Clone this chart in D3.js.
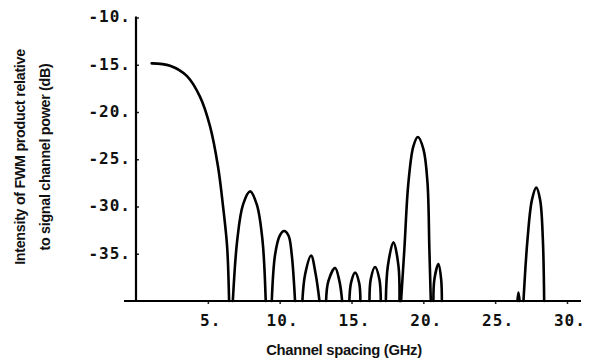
<!DOCTYPE html>
<html>
<head>
<meta charset="utf-8">
<script src="https://cdn.jsdelivr.net/npm/d3@7"></script>
<style>
  html, body { margin: 0; padding: 0; background: #fff; }
  svg { display: block; }
</style>
</head>
<body>
<svg id="chart" width="593" height="359"></svg>
<script>
// ---- data ----
// one traced curve; null marks a break between lobes
const spacingGHz = [
  1.09, 2.37, 3.55, 4.46, 5.15, 5.71, 6.06, 6.34, 6.48, null,
  6.74, 7.05, 7.45, 7.94, 8.41, 8.80, 9.03, null,
  9.45, 9.68, 10.00, 10.31, 10.62, 10.84, 11.07, null,
  11.58, 11.77, 12.19, 12.51, 12.77, null,
  13.23, 13.39, 13.86, 14.16, 14.35, null,
  14.85, 14.97, 15.25, 15.53, 15.62, null,
  16.25, 16.34, 16.64, 16.94, 17.04, null,
  17.39, 17.53, 17.92, 18.27, 18.34, null,
  18.45, 18.68, 18.96, 19.31, 19.62, 20.01, 20.29, 20.42, 20.52, null,
  20.70, 20.77, 21.05, 21.24, 21.29, null,
  26.55, 26.62, 26.70, null,
  26.97, 27.25, 27.56, 27.86, 28.13, 28.32, 28.41
];
const intensityDb = [
  -14.85, -15.1, -16.2, -18.4, -21.5, -25.8, -30.0, -34.2, -40, null,
  -40, -33.5, -29.8, -28.4, -29.8, -33.5, -40, null,
  -40, -35.1, -33.1, -32.6, -33.1, -35.1, -40, null,
  -40, -37.2, -35.2, -37.2, -40, null,
  -40, -37.9, -36.5, -37.9, -40, null,
  -40, -38.06, -37.0, -38.06, -40, null,
  -40, -37.7, -36.4, -37.7, -40, null,
  -40, -36.3, -33.8, -36.3, -40, null,
  -40, -34.5, -27.5, -23.6, -22.65, -23.95, -27.5, -34.5, -40, null,
  -40, -37.7, -36.1, -37.7, -40, null,
  -40, -39.1, -40, null,
  -40, -33.5, -29.3, -28.0, -29.3, -33.5, -40
];
const xTicks = [5, 10, 15, 20, 25, 30];
const yTicks = [-10, -15, -20, -25, -30, -35];
const xTitle = "Channel spacing (GHz)";
const yTitleLines = ["Intensity of FWM product relative", "to signal channel power (dB)"];

// ---- drawing ----
const svg = d3.select("#chart");
const x = d3.scaleLinear().domain([0, 30]).range([136, 567]);
const y = d3.scaleLinear().domain([-40, -10]).range([301, 17.5]);

const tickFont = "'DejaVu Sans Mono', monospace";

// y axis
const yAxis = d3.axisLeft(y).tickValues(yTicks).tickSize(0).tickPadding(5)
  .tickFormat(d => d3.format("d")(d).replace("−", "-") + ".");
const gy = svg.append("g").attr("transform", `translate(${x(0)},0)`).call(yAxis);
gy.select(".domain").remove();
gy.selectAll("text")
  .attr("font-family", tickFont).attr("font-weight", "bold")
  .attr("font-size", 16).attr("letter-spacing", "1px")
  .attr("fill", "#111").attr("dy", "0.28em");
gy.selectAll(".tick").append("line")
  .attr("x1", 0).attr("x2", 3).attr("stroke", "#222").attr("stroke-width", 1.5);

// x axis
const xAxis = d3.axisBottom(x).tickValues(xTicks).tickSize(0).tickPadding(14)
  .tickFormat(d => d + ".");
const gx = svg.append("g").attr("transform", `translate(0,${y(-40)})`).call(xAxis);
gx.select(".domain").remove();
gx.selectAll("text")
  .attr("font-family", tickFont).attr("font-weight", "bold")
  .attr("font-size", 16).attr("letter-spacing", "1px")
  .attr("fill", "#111").attr("dx", "0.15em");
gx.selectAll(".tick").append("line")
  .attr("y1", 0).attr("y2", 3).attr("stroke", "#222").attr("stroke-width", 1.5);

// axis lines
svg.append("line")
  .attr("x1", x(0)).attr("x2", x(0)).attr("y1", y(-10) - 1).attr("y2", y(-40) + 1)
  .attr("stroke", "#000").attr("stroke-width", 2.2);
svg.append("line")
  .attr("x1", x(0) - 12).attr("x2", x(30) + 14).attr("y1", y(-40)).attr("y2", y(-40))
  .attr("stroke", "#000").attr("stroke-width", 2.2);

// curve
const pts = spacingGHz.map((s, i) => ({ s, v: intensityDb[i] }));
const line = d3.line()
  .defined(d => d.s !== null && d.v !== null)
  .x(d => x(d.s)).y(d => y(d.v))
  .curve(d3.curveCatmullRom.alpha(0.5));
svg.append("path").datum(pts)
  .attr("d", line).attr("fill", "none")
  .attr("stroke", "#000").attr("stroke-width", 2.6)
  .attr("stroke-linejoin", "round").attr("stroke-linecap", "round");

// titles
svg.append("text")
  .attr("x", 344).attr("y", 355)
  .attr("text-anchor", "middle")
  .attr("font-family", "'Liberation Sans', Arial, sans-serif")
  .attr("font-weight", "bold").attr("font-size", 14.8)
  .attr("letter-spacing", "-0.3px")
  .attr("fill", "#111").text(xTitle);

const yt = svg.append("text")
  .attr("transform", "translate(0,157) rotate(-90)")
  .attr("text-anchor", "middle")
  .attr("font-family", "'Liberation Sans', Arial, sans-serif")
  .attr("font-weight", "bold").attr("font-size", 14.3)
  .attr("letter-spacing", "-0.3px")
  .attr("fill", "#111");
yTitleLines.forEach((t, i) => {
  yt.append("tspan").attr("x", 0).attr("y", 25 + i * 25).text(t);
});
</script>
</body>
</html>
